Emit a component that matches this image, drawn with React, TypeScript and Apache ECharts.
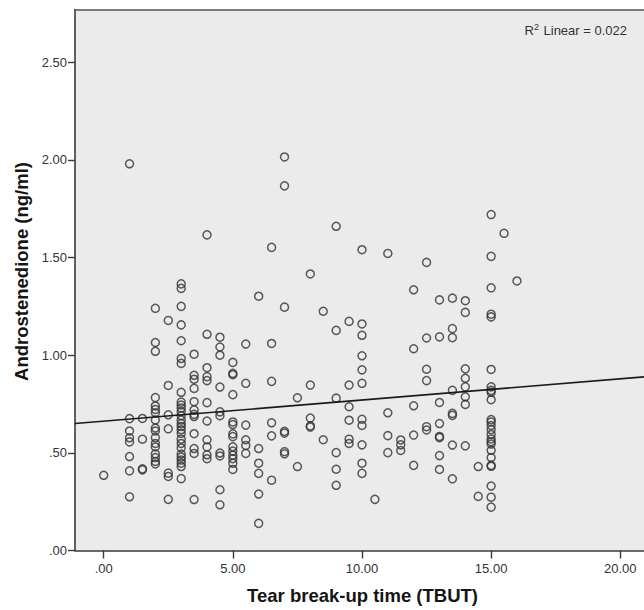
import React, { useEffect, useRef } from "react";
import * as echarts from "echarts";

// Androstenedione (ng/ml) readings grouped by TBUT value
const tbut00 = [0.385];
const tbut10 = [1.98, 0.675, 0.612, 0.577, 0.556, 0.481, 0.408, 0.275];
const tbut15 = [0.676, 0.57, 0.418, 0.413];
const tbut20 = [1.24, 1.065, 1.02, 0.783, 0.74, 0.722, 0.705, 0.668, 0.627, 0.612, 0.578, 0.548, 0.53, 0.495, 0.476, 0.456, 0.443];
const tbut25 = [1.178, 0.845, 0.695, 0.623, 0.396, 0.379, 0.262];
const tbut30 = [1.365, 1.342, 1.25, 1.155, 1.074, 0.983, 0.958, 0.81, 0.76, 0.745, 0.73, 0.712, 0.69, 0.668, 0.65, 0.635, 0.618, 0.6, 0.57, 0.548, 0.525, 0.494, 0.478, 0.463, 0.447, 0.43, 0.368];
const tbut35 = [1.005, 0.897, 0.877, 0.83, 0.762, 0.72, 0.697, 0.686, 0.598, 0.522, 0.497, 0.261];
const tbut40 = [1.616, 1.107, 0.936, 0.89, 0.87, 0.757, 0.663, 0.567, 0.53, 0.49, 0.47];
const tbut45 = [1.092, 1.042, 1.0, 0.837, 0.71, 0.69, 0.499, 0.484, 0.311, 0.234];
const tbut50 = [0.963, 0.907, 0.9, 0.798, 0.658, 0.645, 0.597, 0.583, 0.531, 0.509, 0.488, 0.47, 0.447, 0.415];
const tbut55 = [1.057, 0.856, 0.642, 0.567, 0.538, 0.497];
const tbut60 = [1.302, 0.522, 0.447, 0.395, 0.289, 0.139];
const tbut65 = [1.552, 1.06, 0.866, 0.654, 0.587, 0.36];
const tbut70 = [2.015, 1.867, 1.246, 0.61, 0.601, 0.506, 0.495];
const tbut75 = [0.782, 0.43];
const tbut80 = [1.416, 0.847, 0.678, 0.638, 0.632];
const tbut85 = [1.225, 0.567];
const tbut90 = [1.66, 1.127, 0.78, 0.501, 0.416, 0.334];
const tbut95 = [1.173, 0.847, 0.736, 0.667, 0.57, 0.548];
const tbut100 = [1.54, 1.16, 1.102, 0.997, 0.925, 0.856, 0.672, 0.64, 0.541, 0.447, 0.395];
const tbut105 = [0.262];
const tbut110 = [1.521, 0.705, 0.588, 0.501];
const tbut115 = [0.566, 0.541, 0.512];
const tbut120 = [1.335, 1.033, 0.741, 0.591, 0.436];
const tbut125 = [1.475, 1.088, 0.928, 0.87, 0.634, 0.617];
const tbut130 = [1.283, 1.094, 0.758, 0.65, 0.584, 0.578, 0.486, 0.415];
const tbut135 = [1.292, 1.136, 1.09, 0.82, 0.702, 0.692, 0.54, 0.367];
const tbut140 = [1.279, 1.219, 0.93, 0.882, 0.838, 0.787, 0.748, 0.536];
const tbut145 = [0.43, 0.277];
const tbut150 = [1.72, 1.506, 1.345, 1.21, 1.196, 0.927, 0.838, 0.82, 0.81, 0.772, 0.67, 0.658, 0.64, 0.619, 0.594, 0.571, 0.557, 0.545, 0.513, 0.476, 0.436, 0.431, 0.33, 0.273, 0.222];
const tbut155 = [1.624];
const tbut160 = [1.38];

const columns: [number, number[]][] = [
  [0, tbut00], [1, tbut10], [1.5, tbut15], [2, tbut20], [2.5, tbut25], [3, tbut30],
  [3.5, tbut35], [4, tbut40], [4.5, tbut45], [5, tbut50], [5.5, tbut55], [6, tbut60],
  [6.5, tbut65], [7, tbut70], [7.5, tbut75], [8, tbut80], [8.5, tbut85], [9, tbut90],
  [9.5, tbut95], [10, tbut100], [10.5, tbut105], [11, tbut110], [11.5, tbut115],
  [12, tbut120], [12.5, tbut125], [13, tbut130], [13.5, tbut135], [14, tbut140],
  [14.5, tbut145], [15, tbut150], [15.5, tbut155], [16, tbut160],
];

// Fit line
const regIntercept = 0.662;
const regSlope = 0.01085;
const r2Text = "0.022";

const xTicks = [0, 5, 10, 15, 20];
const yTicks = [0, 0.5, 1, 1.5, 2, 2.5];
const xMin = -1.111;
const xMax = 20.918;
const yMin = 0;
const yMax = 2.77;

const fmt = (v: number) => {
  const s = v.toFixed(2);
  return v < 1 ? s.replace(/^0/, "") : s;
};

const FONT = "'Liberation Sans', Arial, sans-serif";

export default function App() {
  const ref = useRef<HTMLDivElement>(null);
  useEffect(() => {
    if (!ref.current) return;
    const chart = echarts.init(ref.current, undefined, { renderer: "svg" });
    const scatterData = columns.flatMap(([x, ys]) => ys.map((y) => [x, y]));
    const lineData = [
      [xMin, regIntercept + regSlope * xMin],
      [xMax, regIntercept + regSlope * xMax],
    ];
    chart.setOption({
      animation: false,
      backgroundColor: "#ffffff",
      grid: {
        left: 75,
        top: 9.5,
        right: 0,
        bottom: 59.5,
        show: true,
        backgroundColor: "#ebebeb",
        borderWidth: 0,
      },
      xAxis: [
        {
          type: "value",
          min: xMin,
          max: xMax,
          splitLine: { show: false },
          axisLine: { show: true, onZero: false, lineStyle: { color: "#3a3a3a", width: 1.6 } },
          axisTick: { show: true, inside: false, length: 8, customValues: xTicks, lineStyle: { color: "#3a3a3a", width: 1.4 } },
          axisLabel: {
            customValues: xTicks,
            formatter: (v: number) => fmt(v),
            color: "#333",
            fontFamily: FONT,
            fontSize: 13,
            margin: 11,
          },
          name: "Tear break-up time (TBUT)",
          nameLocation: "middle",
          nameGap: 35,
          nameTextStyle: {
            fontFamily: FONT,
            fontWeight: "bold",
            fontSize: 18.5,
            color: "#151515",
            padding: [0, 0, 0, 6],
          },
        },
        {
          type: "value",
          position: "top",
          min: xMin,
          max: xMax,
          splitLine: { show: false },
          axisLine: { show: true, onZero: false, lineStyle: { color: "#555", width: 1.6 } },
          axisTick: { show: false },
          axisLabel: { show: false },
        },
      ],
      yAxis: {
        type: "value",
        min: yMin,
        max: yMax,
        splitLine: { show: false },
        axisLine: { show: true, onZero: false, lineStyle: { color: "#3a3a3a", width: 1.6 } },
        axisTick: { show: true, inside: false, length: 7, customValues: yTicks, lineStyle: { color: "#3a3a3a", width: 1.4 } },
        axisLabel: {
          customValues: yTicks,
          formatter: (v: number) => fmt(v),
          color: "#333",
          fontFamily: FONT,
          fontSize: 13,
          margin: 8,
        },
        name: "Androstenedione (ng/ml)",
        nameLocation: "middle",
        nameGap: 44,
        nameTextStyle: {
          fontFamily: FONT,
          fontWeight: "bold",
          fontSize: 18.5,
          color: "#151515",
          padding: [0, 0, 0, 17],
        },
      },
      series: [
        {
          type: "scatter",
          data: scatterData,
          symbol: "circle",
          symbolSize: 8,
          itemStyle: { color: "transparent", borderColor: "#333", borderWidth: 1.5 },
          z: 3,
        },
        {
          type: "line",
          data: lineData,
          showSymbol: false,
          symbol: "none",
          clip: true,
          lineStyle: { color: "#1a1a1a", width: 1.6 },
          z: 4,
        },
      ],
      graphic: [
        {
          type: "text",
          right: 17,
          top: 22,
          z: 10,
          style: {
            text: "{r|R}{s|2}{r| Linear = " + r2Text + "}",
            rich: {
              r: { fontFamily: FONT, fontSize: 13, fill: "#333", lineHeight: 16 },
              s: { fontFamily: FONT, fontSize: 9, fill: "#333", lineHeight: 16, padding: [0, 1, 7, 0] },
            },
          },
        },
      ],
    });
    return () => chart.dispose();
  }, []);
  return (
    <div
      ref={ref}
      style={{ position: "absolute", left: 0, top: 0, width: 644, height: 610, background: "#fff" }}
    />
  );
}
